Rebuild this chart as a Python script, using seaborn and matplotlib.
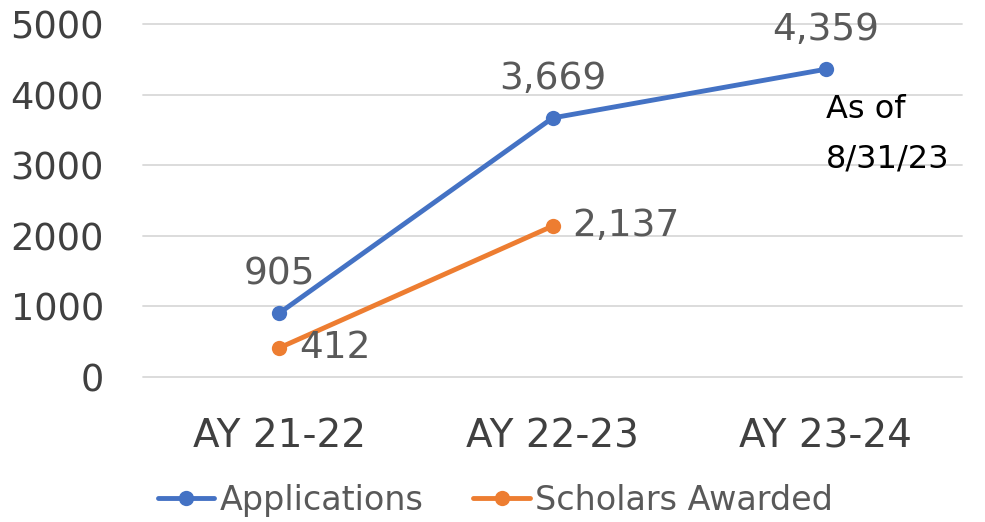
import pandas as pd
import seaborn as sns
import matplotlib.pyplot as plt
from matplotlib.lines import Line2D

# values
years = ["AY 21-22", "AY 22-23", "AY 23-24"]
applications = [905, 3669, 4359]
scholars_years = ["AY 21-22", "AY 22-23"]
scholars = [412, 2137]
y_ticks = [0, 1000, 2000, 3000, 4000, 5000]

blue = "#4472C4"
orange = "#ED7D31"
grey = "#595959"

df = pd.concat([
    pd.DataFrame({"year": years, "count": applications, "series": "Applications"}),
    pd.DataFrame({"year": scholars_years, "count": scholars, "series": "Scholars Awarded"}),
])

sns.set_theme(style="white")
plt.rcParams["font.family"] = ["DejaVu Sans"]

fig = plt.figure(figsize=(9.85, 5.22), dpi=100)
ax = fig.add_axes([0.145, 0.278, 0.832, 0.676])

sns.lineplot(data=df, x="year", y="count", hue="series",
             palette=[blue, orange], marker="o", markersize=11,
             markeredgewidth=0, linewidth=3.5, sort=False, ax=ax, legend=False)

ax.set_xlim(-0.5, 2.5)
ax.set_ylim(0, 5000)
ax.set_yticks(y_ticks)
ax.set_yticklabels([str(t) for t in y_ticks])
ax.grid(axis="y", color="#D9D9D9", linewidth=1.3)
for gl in ax.get_ygridlines():
    gl.set_clip_on(False)
ax.set_axisbelow(True)
for s in ax.spines.values():
    s.set_visible(False)
ax.set_xlabel("")
ax.set_ylabel("")
ax.tick_params(axis="both", colors="#404040", length=0)
ax.tick_params(axis="x", labelsize=28, pad=29)
ax.tick_params(axis="y", labelsize=26.5, pad=28)

# data labels
for i, v in enumerate(applications):
    ax.annotate(f"{v:,}", (i, v), xytext=(0, 15), textcoords="offset points",
                ha="center", va="bottom", fontsize=27, color=grey)
for i, v in enumerate(scholars):
    ax.annotate(f"{v:,}", (i, v), xytext=(14, 0), textcoords="offset points",
                ha="left", va="center", fontsize=27, color=grey)

ax.annotate("As of\n8/31/23", (2, applications[2]), xytext=(0, -18),
            textcoords="offset points", ha="left", va="top", fontsize=23,
            color="black", linespacing=1.75, annotation_clip=False)

handles = [Line2D([], [], color=blue, lw=3.5, marker="o", ms=11, mew=0),
           Line2D([], [], color=orange, lw=3.5, marker="o", ms=11, mew=0)]
ax.legend(handles, ["Applications", "Scholars Awarded"], loc="center",
          bbox_to_anchor=(0.43, -0.35), ncol=2, frameon=False,
          fontsize=24, labelcolor=grey, handlelength=1.7, handletextpad=0.15,
          columnspacing=1.5)

fig.savefig("out.png", dpi=100)
